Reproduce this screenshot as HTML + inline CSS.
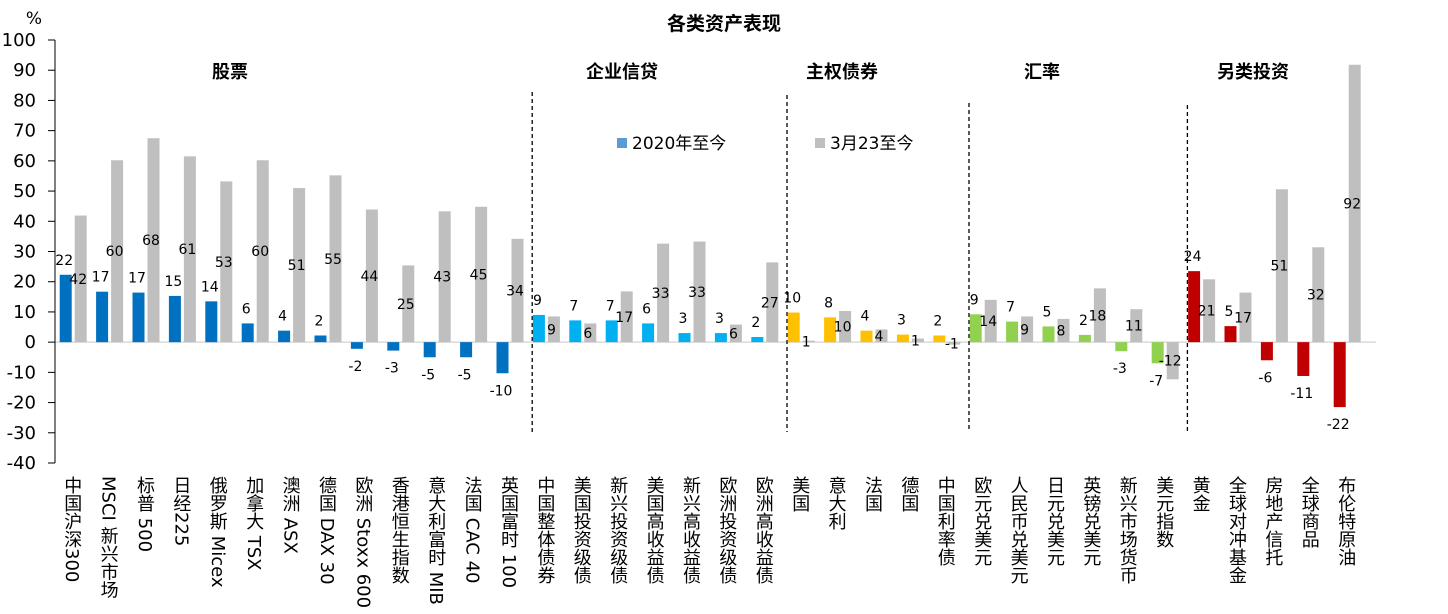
<!DOCTYPE html>
<html><head><meta charset="utf-8">
<style>
html,body{margin:0;padding:0;background:#fff;}
body{width:1448px;height:614px;overflow:hidden;position:relative;font-family:"Liberation Sans","Noto Sans CJK SC",sans-serif;}
svg{position:absolute;left:0;top:0;}
.xl{position:absolute;top:476px;writing-mode:vertical-rl;text-orientation:mixed;font-size:18px;line-height:18px;color:#000;white-space:nowrap;font-family:"DejaVu Sans","Noto Sans CJK SC",sans-serif;}
</style></head>
<body>
<svg id="chart" width="1448" height="614"></svg>
<div id="xlabels"></div>
<script>
const categories=["中国沪深300","MSCI 新兴市场","标普 500","日经225","俄罗斯 Micex","加拿大 TSX","澳洲 ASX","德国 DAX 30","欧洲 Stoxx 600","香港恒生指数","意大利富时 MIB","法国 CAC 40","英国富时 100",
"中国整体债券","美国投资级债","新兴投资级债","美国高收益债","新兴高收益债","欧洲投资级债","欧洲高收益债",
"美国","意大利","法国","德国","中国利率债",
"欧元兑美元","人民币兑美元","日元兑美元","英镑兑美元","新兴市场货币","美元指数",
"黄金","全球对冲基金","房地产信托","全球商品","布伦特原油"];
const ytdValues=[22.3,16.7,16.4,15.3,13.5,6.2,3.8,2.2,-2.2,-2.8,-5,-5,-10.3,
9,7.2,7.2,6.2,3,3,1.7,
9.8,8.2,3.8,2.5,2.2,
9.2,6.8,5.2,2.4,-3,-7,
23.5,5.3,-6,-11.2,-21.5];
const sinceValues=[41.9,60.2,67.5,61.5,53.2,60.2,51,55.2,43.9,25.4,43.3,44.8,34.2,
8.5,6.2,16.8,32.6,33.3,5.8,26.4,
0.5,10.3,4.2,1.2,-0.8,
14,8.5,7.7,17.8,10.9,-12.3,
20.8,16.4,50.6,31.4,91.8];
const ytdLabels=["22","17","17","15","14","6","4","2","-2","-3","-5","-5","-10","9","7","7","6","3","3","2","10","8","4","3","2","9","7","5","2","-3","-7","24","5","-6","-11","-22"];
const sinceLabels=["42","60","68","61","53","60","51","55","44","25","43","45","34","9","6","17","33","33","6","27","1","10","4","1","-1","14","9","8","18","11","-12","21","17","51","32","92"];
const groupNames=["股票","企业信贷","主权债券","汇率","另类投资"];
const groupSizes=[13,7,5,6,5];
const groupColors=["#0070C0","#00B0F0","#FFC000","#92D050","#C00000"];
const yTicks=[100,90,80,70,60,50,40,30,20,10,0,-10,-20,-30,-40];

const NS="http://www.w3.org/2000/svg";
const svg=document.getElementById('chart');
const X0=55,W=36.4,YMIN=-40,YMAX=100,YT=40,YB=463;
const y=v=>YB-(v-YMIN)/(YMAX-YMIN)*(YB-YT);
const cx=i=>X0+W*(i+0.5);
function mk(tag,attrs){const e=document.createElementNS(NS,tag);for(const k in attrs)e.setAttribute(k,attrs[k]);svg.appendChild(e);return e;}
function txt(x,yy,s,size,anchor,weight){const t=mk('text',{x:x,y:yy,'font-size':size,'text-anchor':anchor||'middle','font-weight':weight||'normal','font-family':'"DejaVu Sans","Noto Sans CJK SC",sans-serif',fill:'#000'});t.textContent=s;return t;}

let t=txt(724,30,"各类资产表现",19,'middle','bold');


t=txt(34,24,"%",17,'middle');



let zl=mk('line',{x1:X0,x2:1376,y1:y(0),y2:y(0),stroke:'#D9D9D9','stroke-width':1.5});


let ax=mk('line',{x1:X0,x2:X0,y1:YT,y2:YB,stroke:'#000','stroke-width':1});


yTicks.forEach(v=>{
  const tk=mk('line',{x1:X0-7,x2:X0,y1:y(v),y2:y(v),stroke:'#000'});
  
  
  const l=txt(36,y(v)+6,String(v),18,'end');
  
  
});

let start=0;
const dashTops=[92,95,103,105];
const groupLabelX=[230,622,842,1042,1253];
groupSizes.forEach((n,g)=>{
  const gl=txt(groupLabelX[g],78,groupNames[g],18,'middle','bold');
  
  
  if(g<groupSizes.length-1){
    const xx=X0+W*(start+n)+4;
    const d=mk('line',{x1:xx,x2:xx,y1:dashTops[g],y2:432,stroke:'#000','stroke-dasharray':'4,3','stroke-width':1.3});
    
    
  }
  for(let i=start;i<start+n;i++){
    const c=cx(i);
    const v=ytdValues[i],s=sinceValues[i];
    const b=mk('rect',{x:c-13.5,y:Math.min(y(v),y(0)),width:12,height:Math.abs(y(v)-y(0)),fill:groupColors[g]});
    
    
    const b2=mk('rect',{x:c+1.5,y:Math.min(y(s),y(0)),width:12,height:Math.abs(y(s)-y(0)),fill:'#BFBFBF'});
    
    
    const ly=v>=0?y(v)-10:y(v)+22;
    const l1=txt(c-9,ly,ytdLabels[i],14);
    
    
    const l2=txt(c+5,y(s/2)+5,sinceLabels[i],14);
    
    
  }
  start+=n;
});

let lr=mk('rect',{x:617,y:138,width:10,height:10,fill:'#5B9BD5'});


t=txt(632,149,"2020年至今",17,'start');


lr=mk('rect',{x:815,y:138,width:10,height:10,fill:'#BFBFBF'});


t=txt(830,149,"3月23至今",17,'start');



const xl=document.getElementById('xlabels');
categories.forEach((c,i)=>{
  const d=document.createElement('div');
  d.className='xl';
  
  
  d.style.left=(cx(i)-9-2)+'px';
  d.textContent=c;
  xl.appendChild(d);
});
</script>
</body></html>
